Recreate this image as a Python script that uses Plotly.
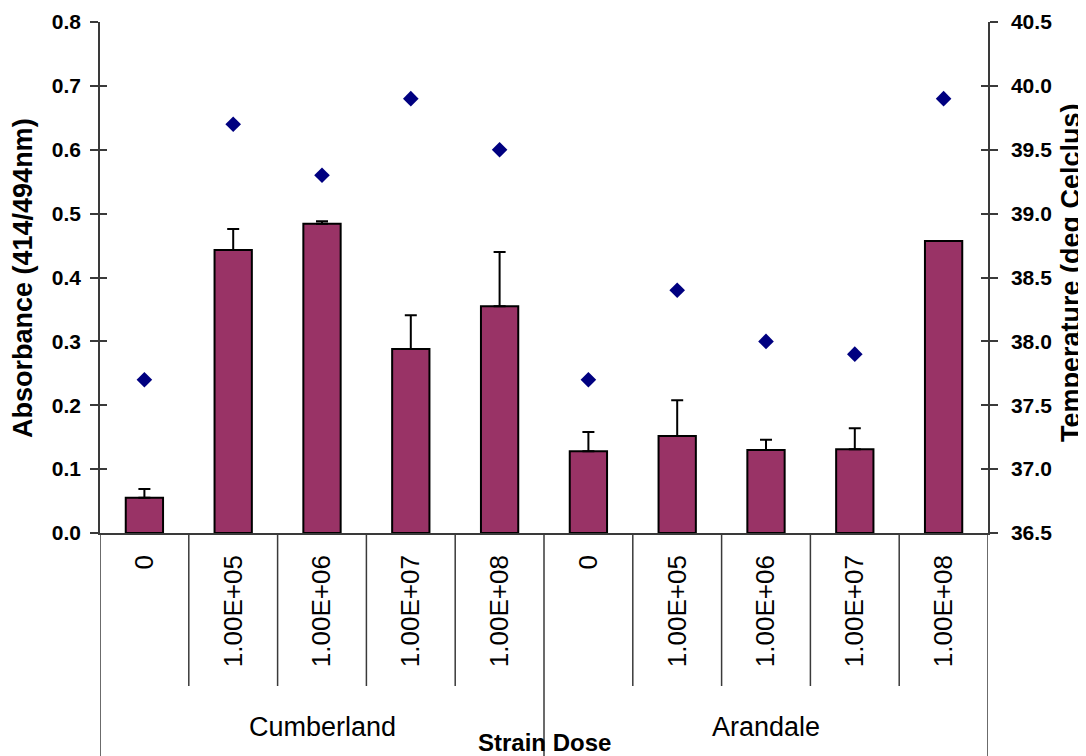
import plotly.graph_objects as go

strains = ["Cumberland", "Arandale"]
doses = ["0", "1.00E+05", "1.00E+06", "1.00E+07", "1.00E+08",
         "0", "1.00E+05", "1.00E+06", "1.00E+07", "1.00E+08"]
absorbance = [0.055, 0.443, 0.484, 0.288, 0.355, 0.128, 0.152, 0.130, 0.131, 0.457]
abs_err = [0.014, 0.033, 0.004, 0.053, 0.085, 0.030, 0.056, 0.016, 0.033, 0.0]
temperature = [37.7, 39.7, 39.3, 39.9, 39.5, 37.7, 38.4, 38.0, 37.9, 39.9]

pos = list(range(len(doses)))

W, H = 1086, 756
OFF = 8  # page body margin
# plot area in screenshot pixels
X0, X1, Y0, Y1 = 100, 988, 22, 533
L, T = X0 - OFF, Y0 - OFF
R = W - (X1 - OFF)
B = H - (Y1 - OFF)
ph = Y1 - Y0
pw = X1 - X0
def py(ypix):
    return (Y1 - ypix) / ph
def px(xpix):
    return (xpix - X0) / pw

FONT = "Liberation Sans, Arial, sans-serif"
AX = "#3a3a3a"

fig = go.Figure()
fig.add_trace(go.Bar(
    x=pos, y=absorbance, width=0.42,
    marker=dict(color="#993366", line=dict(color="black", width=2)),
    error_y=dict(type="data", symmetric=False, array=abs_err,
                 arrayminus=[0] * len(abs_err), color="black", thickness=2, width=6),
    showlegend=False, yaxis="y"))
fig.add_trace(go.Scatter(
    x=pos, y=temperature, mode="markers",
    marker=dict(symbol="diamond", size=12, color="#000080"),
    showlegend=False, yaxis="y2"))
fig.add_trace(go.Scatter(x=[None], y=[None], yaxis="y3", showlegend=False))
fig.add_trace(go.Scatter(x=[None], y=[None], yaxis="y4", showlegend=False))

shapes = []
for k in range(len(doses) - 1):
    if k == 4:
        continue
    shapes.append(dict(type="line", xref="x", yref="paper", x0=k + 0.5, x1=k + 0.5,
                       y0=0, y1=py(686), line=dict(color=AX, width=1.5)))
for xv in [-0.5, 4.5, 9.5]:
    shapes.append(dict(type="line", xref="x", yref="paper", x0=xv, x1=xv,
                       y0=0, y1=py(760), line=dict(color=AX, width=1.5)))

annotations = [
    dict(text=strains[0], x=2, y=py(727), xref="x", yref="paper", showarrow=False,
         font=dict(family=FONT, size=27, color="black"), yanchor="middle"),
    dict(text=strains[1], x=7, y=py(727), xref="x", yref="paper", showarrow=False,
         font=dict(family=FONT, size=27, color="black"), yanchor="middle"),
    dict(text="<b>Strain Dose</b>", x=4.5, y=py(743), xref="x", yref="paper", showarrow=False,
         font=dict(family=FONT, size=24, color="black"), yanchor="middle"),
    dict(text="<b>Absorbance (414/494nm)</b>", x=px(23), y=py(278), xref="paper", yref="paper",
         showarrow=False, textangle=-90, xanchor="center", yanchor="middle",
         font=dict(family=FONT, size=27, color="black")),
    dict(text="<b>Temperature (deg Celclus)</b>", x=px(1071), y=py(273), xref="paper", yref="paper",
         showarrow=False, textangle=-90, xanchor="center", yanchor="middle",
         font=dict(family=FONT, size=27, color="black")),
]

fig.update_layout(
    width=W, height=H,
    margin=dict(l=L, r=R, t=T, b=B, pad=0),
    paper_bgcolor="white", plot_bgcolor="white",
    font=dict(family=FONT, color="black"),
    xaxis=dict(range=[-0.5, 9.5], tickvals=pos, ticktext=doses, tickangle=-90,
               ticks="", showline=True, linecolor=AX, linewidth=1.5, automargin=False,
               tickfont=dict(family=FONT, size=26, color="black"),
               ticklabelstandoff=10, showgrid=False, zeroline=False),
    yaxis=dict(range=[0, 0.8], dtick=0.1, tickformat=".1f", ticks="outside", ticklen=8,
               tickcolor=AX, tickwidth=1.5, showline=True, linecolor=AX, linewidth=1.5,
               showgrid=False, zeroline=False, automargin=False,
               tickfont=dict(family=FONT, size=21, color="black", weight="bold"),
               ticklabelstandoff=5),
    yaxis2=dict(range=[36.5, 40.5], dtick=0.5, tickformat=".1f", overlaying="y", side="right",
                ticks="outside", ticklen=8, tickcolor=AX, tickwidth=1.5, automargin=False,
                showline=True, linecolor=AX, linewidth=1.5, showgrid=False, zeroline=False,
                tickfont=dict(family=FONT, size=21, color="black", weight="bold"),
                ticklabelstandoff=9),
    yaxis3=dict(range=[0, 0.8], dtick=0.1, overlaying="y", side="left", ticks="inside",
                ticklen=7, tickcolor=AX, tickwidth=1.5, showticklabels=False, automargin=False,
                showline=False, showgrid=False, zeroline=False),
    yaxis4=dict(range=[36.5, 40.5], dtick=0.5, overlaying="y", side="right", ticks="inside",
                ticklen=7, tickcolor=AX, tickwidth=1.5, showticklabels=False, automargin=False,
                showline=False, showgrid=False, zeroline=False),
    shapes=shapes,
    annotations=annotations,
)

fig.write_html("out.html")
